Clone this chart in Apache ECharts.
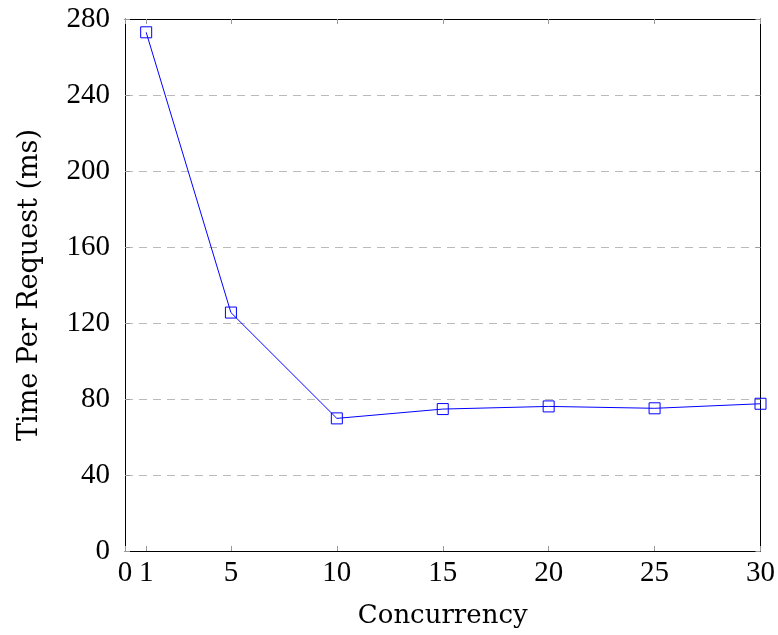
<!DOCTYPE html>
<html>
<head>
<meta charset="UTF-8">
<title>Time Per Request</title>
<script src="https://cdn.jsdelivr.net/npm/echarts@6.0.0/dist/echarts.min.js"></script>
<style>
    body { margin: 0; padding: 0; background: #fff; }
    #chart { width: 778px; height: 635px; }
</style>
</head>
<body>
<div id="chart"></div>
<script>
    // 数据
    var concurrency = [1, 5, 10, 15, 20, 25, 30];
    var timePerRequest = [273, 125.5, 69.8, 74.7, 76.1, 75.1, 77.5];
    var xTicks = [0, 1, 5, 10, 15, 20, 25, 30];

    var labelFont = 'Liberation Serif';
    var nameFont = 'DejaVu Serif';
    var chart = echarts.init(document.getElementById('chart'));

    var points = concurrency.map(function (c, i) { return [c, timePerRequest[i]]; });

    var baseX = {
        type: 'value', min: 0, max: 30,
        axisLine: { show: true, onZero: false, lineStyle: { color: '#000', width: 1 } },
        axisTick: { show: true, inside: true, length: 5, customValues: xTicks, lineStyle: { color: '#999' } },
        splitLine: { show: false }
    };
    var baseY = {
        type: 'value', min: 0, max: 280, interval: 40,
        axisLine: { show: true, onZero: false, lineStyle: { color: '#000', width: 1 } },
        axisTick: { show: true, inside: true, length: 5, lineStyle: { color: '#999' } }
    };

    chart.setOption({
        animation: false,
        grid: { left: 125, right: 16, top: 19, bottom: 84 },
        xAxis: [
            Object.assign({}, baseX, {
                position: 'bottom',
                name: 'Concurrency', nameLocation: 'middle', nameGap: 52,
                nameTextStyle: { fontFamily: nameFont, fontSize: 26, color: '#000' },
                axisLabel: { customValues: xTicks, fontFamily: labelFont, fontSize: 29, color: '#000', margin: 8 }
            }),
            Object.assign({}, baseX, { position: 'top', axisLabel: { show: false } })
        ],
        yAxis: [
            Object.assign({}, baseY, {
                position: 'left',
                name: 'Time Per Request (ms)', nameLocation: 'middle', nameGap: 82,
                nameTextStyle: { fontFamily: nameFont, fontSize: 27, color: '#000' },
                axisLabel: { fontFamily: labelFont, fontSize: 29, color: '#000', margin: 15 },
                splitLine: { show: true, lineStyle: { color: '#bbb', type: [8, 6], width: 1 } }
            }),
            Object.assign({}, baseY, { position: 'right', axisLabel: { show: false }, splitLine: { show: false } })
        ],
        series: [{
            type: 'line',
            data: points,
            symbol: 'rect',
            symbolSize: 11,
            itemStyle: { color: 'transparent', borderColor: '#0000ff', borderWidth: 1 },
            lineStyle: { color: '#0000ff', width: 1 }
        }]
    });
</script>
</body>
</html>
